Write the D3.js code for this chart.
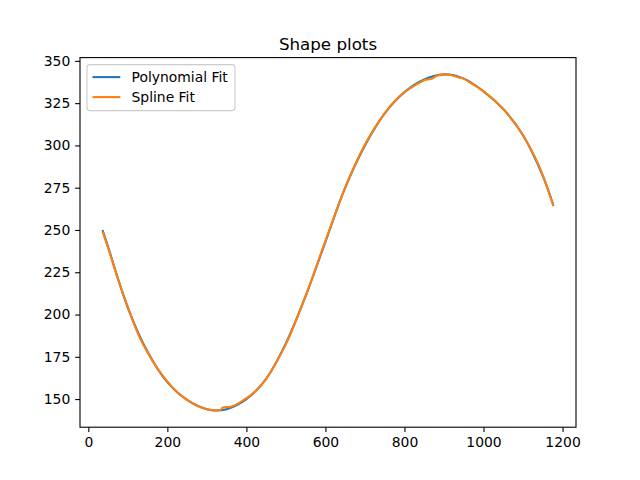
<!DOCTYPE html>
<html>
<head>
<meta charset="utf-8">
<script src="https://cdn.jsdelivr.net/npm/d3@7"></script>
<style>
  body { margin: 0; background: #fff; }
  svg { display: block; font-family: "DejaVu Sans", sans-serif; }
</style>
</head>
<body>
<div id="chart"></div>
<script>
// values
const polyX = [36, 50, 100, 150, 200, 250, 300, 330, 350, 400, 450, 500, 550, 600, 650, 700, 750, 800, 850, 900, 950, 1000, 1050, 1100, 1150, 1177];
const polyY = [250, 240, 204, 178, 160, 149.5, 144, 143.3, 144, 150, 162, 183, 211, 243, 275, 300, 319, 331.5, 339, 342, 339.5, 332, 321.5, 306, 282, 264.5];

const splineX = [36, 50, 75, 100, 125, 150, 175, 200, 225, 250, 275, 300, 320, 335, 340, 360, 380, 400, 425, 450, 475, 500, 550, 600, 650, 700, 750, 800, 830, 850, 870, 880, 900, 920, 940, 950, 960, 1000, 1050, 1100, 1150, 1177];
const splineY = [249, 239.5, 221, 204.5, 189, 177.5, 168, 160.5, 154, 149.5, 146, 144, 143.3, 143.5, 145, 145.5, 147.5, 150.5, 155, 162, 171.5, 182.5, 211, 243.5, 275, 300.5, 319, 331.5, 336, 338.5, 339.5, 341, 342, 341.5, 340, 339.5, 338, 332, 321.5, 306, 282.5, 264];

const xTicks = [0, 200, 400, 600, 800, 1000, 1200];
const yTicks = [150, 175, 200, 225, 250, 275, 300, 325, 350];
const seriesNames = ["Polynomial Fit", "Spline Fit"];
const colors = ["#1f77b4", "#ff7f0e"];
const title = "Shape plots";

const width = 640;
const height = 480;
const marginLeft = 80;
const marginRight = 64;
const marginTop = 57.6;
const marginBottom = 52.8;

const poly = polyX.map((x, i) => ({x, y: polyY[i]}));
const spline = splineX.map((x, i) => ({x, y: splineY[i]}));

// matplotlib style 5% padding around the data
const xMin = d3.min(polyX.concat(splineX)), xMax = d3.max(polyX.concat(splineX));
const yMin = d3.min(polyY.concat(splineY)), yMax = d3.max(polyY.concat(splineY));
const xPad = (xMax - xMin) * 0.05, yPad = (yMax - yMin) * 0.05;

const x = d3.scaleLinear()
    .domain([xMin - xPad, xMax + xPad])
    .range([marginLeft, width - marginRight]);

const y = d3.scaleLinear()
    .domain([yMin - yPad, yMax + yPad])
    .range([height - marginBottom, marginTop]);

const svg = d3.select("#chart").append("svg")
    .attr("width", width)
    .attr("height", height)
    .attr("viewBox", [0, 0, width, height]);

svg.append("rect").attr("width", width).attr("height", height).attr("fill", "white");

const line = d3.line()
    .x(d => x(d.x))
    .y(d => y(d.y));

svg.append("path")
    .datum(poly)
    .attr("fill", "none")
    .attr("stroke", colors[0])
    .attr("stroke-width", 2.08)
    .attr("stroke-linejoin", "round")
    .attr("d", line.curve(d3.curveCatmullRom));

svg.append("path")
    .datum(spline)
    .attr("fill", "none")
    .attr("stroke", colors[1])
    .attr("stroke-width", 2.08)
    .attr("stroke-linejoin", "round")
    .attr("d", line.curve(d3.curveMonotoneX));

// axes
svg.append("g")
    .attr("transform", `translate(0,${height - marginBottom})`)
    .call(d3.axisBottom(x).tickValues(xTicks).tickSize(4.86).tickPadding(4.86).tickFormat(d3.format("d")))
    .call(g => g.select(".domain").remove())
    .call(g => g.selectAll(".tick line").attr("stroke-width", 1.1))
    .call(g => g.selectAll(".tick text").attr("font-size", 13.9).attr("fill", "black").attr("font-family", "DejaVu Sans"));

svg.append("g")
    .attr("transform", `translate(${marginLeft},0)`)
    .call(d3.axisLeft(y).tickValues(yTicks).tickSize(4.86).tickPadding(4.86).tickFormat(d3.format("d")))
    .call(g => g.select(".domain").remove())
    .call(g => g.selectAll(".tick line").attr("stroke-width", 1.1))
    .call(g => g.selectAll(".tick text").attr("font-size", 13.9).attr("fill", "black").attr("font-family", "DejaVu Sans"));

svg.append("rect")
    .attr("x", marginLeft)
    .attr("y", marginTop)
    .attr("width", width - marginLeft - marginRight)
    .attr("height", height - marginTop - marginBottom)
    .attr("fill", "none")
    .attr("stroke", "black")
    .attr("stroke-width", 1.1);

svg.append("text")
    .attr("x", (marginLeft + width - marginRight) / 2)
    .attr("y", marginTop - 8)
    .attr("text-anchor", "middle")
    .attr("font-size", 16.7)
    .text(title);

// legend
const legend = svg.append("g")
    .attr("transform", `translate(${marginLeft + 7},${marginTop + 7})`);

legend.append("rect")
    .attr("width", 148)
    .attr("height", 46)
    .attr("rx", 3)
    .attr("fill", "white")
    .attr("fill-opacity", 0.8)
    .attr("stroke", "#cccccc")
    .attr("stroke-width", 1.1);

const items = legend.selectAll("g.item")
    .data(seriesNames)
    .join("g")
      .attr("class", "item")
      .attr("transform", (d, i) => `translate(0,${12.5 + i * 20})`);

items.append("line")
    .attr("x1", 5.5).attr("x2", 33.3)
    .attr("stroke", (d, i) => colors[i])
    .attr("stroke-width", 2.08);

items.append("text")
    .attr("x", 44.5)
    .attr("dy", "0.35em")
    .attr("font-size", 13.9)
    .text(d => d);
</script>
</body>
</html>
